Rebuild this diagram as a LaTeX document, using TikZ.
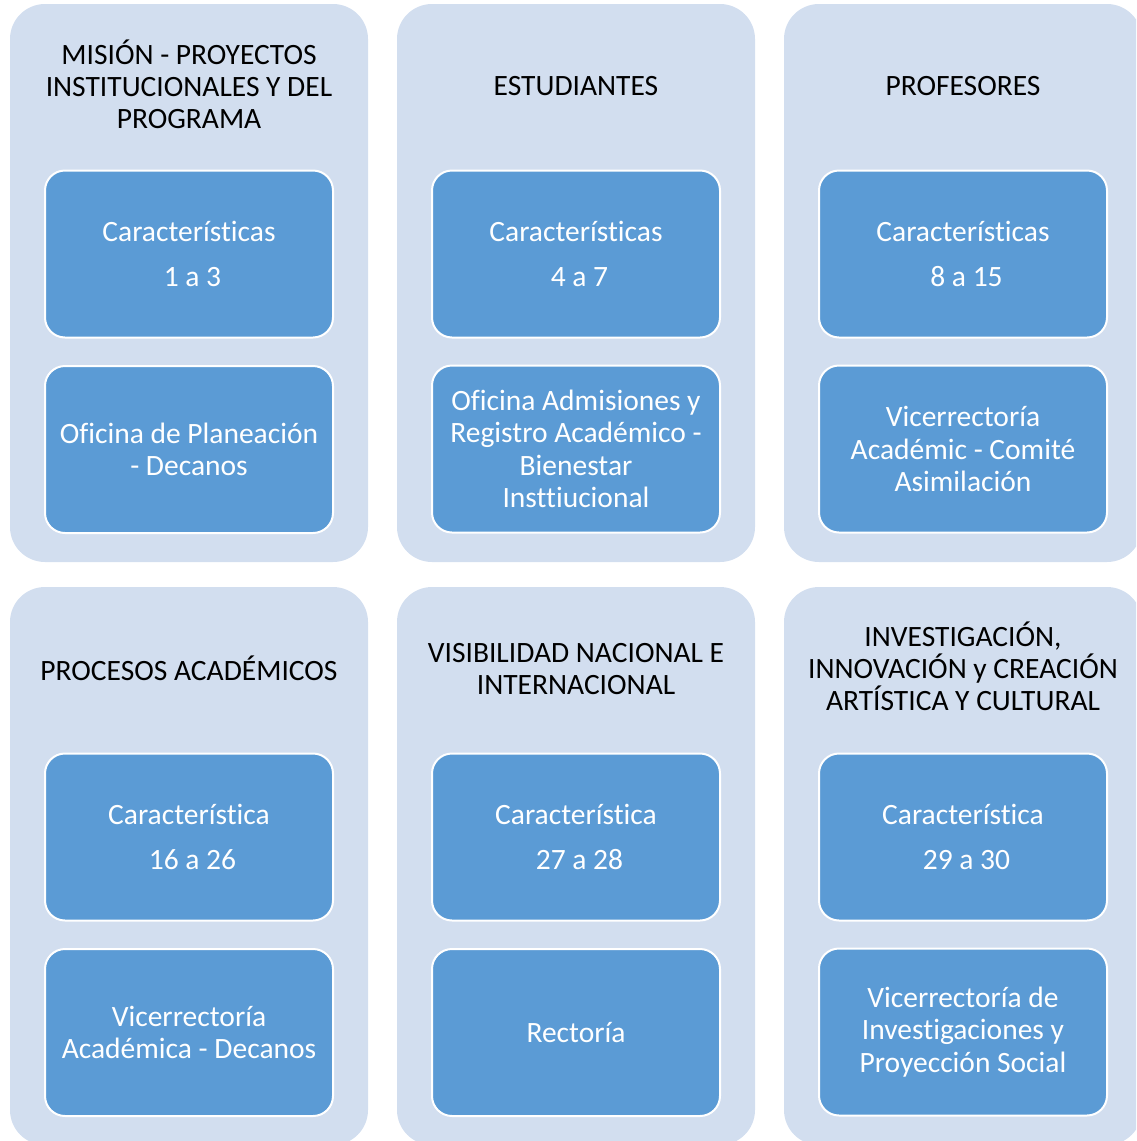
\documentclass[tikz,border=0pt]{standalone}
\usepackage{fontspec}
\setmainfont{Carlito}[Ligatures=NoCommon]
\definecolor{panelc}{HTML}{D2DEEF}
\definecolor{boxc}{HTML}{5B9BD5}
\newcommand{\lsp}{\hspace*{7pt}}
\begin{document}
\begin{tikzpicture}[x=1pt,y=-1pt,
  panel/.style={fill=panelc, rounded corners=35pt, minimum width=358pt, minimum height=558pt, inner sep=0pt},
  box/.style={fill=boxc, draw=white, line width=2pt, rounded corners=20pt, minimum width=288pt, minimum height=167pt, inner sep=0pt, text=white, align=center, font=\fontsize{29.5}{32.5}\selectfont},
  head/.style={align=center, text=black, font=\fontsize{29.5}{32}\selectfont}]
\useasboundingbox (0,0) rectangle (1136,1141);
\clip (0,0) rectangle (1136,1141);
% panels
\node[panel] (p11) at (189,283) {};
\node[panel] (p12) at (576,283) {};
\node[panel] (p13) at (963,283) {};
\node[panel] (p21) at (189,866) {};
\node[panel] (p22) at (576,866) {};
\node[panel] (p23) at (963,866) {};
% headers
\node[head] (h11) at (189,84) {MISIÓN - PROYECTOS\\INSTITUCIONALES Y DEL\\PROGRAMA};
\node[head] (h12) at (576,86) {ESTUDIANTES};
\node[head] (h13) at (963,86) {PROFESORES};
\node[head] (h21) at (189,668) {PROCESOS ACADÉMICOS};
\node[head] (h22) at (576,669) {VISIBILIDAD NACIONAL E\\INTERNACIONAL};
\node[head] (h23) at (963,666.5) {INVESTIGACIÓN,\\INNOVACIÓN y CREACIÓN\\ARTÍSTICA Y CULTURAL};
% row 1 boxes
\node[box] (a11) at (189,254) {Características\\[12.5pt] \lsp 1 a 3};
\node[box] (b11) at (189,449.5) {Oficina de Planeación\\- Decanos};
\node[box] (a12) at (576,254) {Características\\[12.5pt] \lsp 4 a 7};
\node[box] (b12) at (576,449) {Oficina Admisiones y\\Registro Académico -\\Bienestar\\Insttiucional};
\node[box] (a13) at (963,254) {Características\\[12.5pt] \lsp 8 a 15};
\node[box] (b13) at (963,449) {Vicerrectoría\\Académic - Comité\\Asimilación};
% row 2 boxes
\node[box] (a21) at (189,837) {Característica\\[12.5pt] \lsp 16 a 26};
\node[box] (b21) at (189,1032.5) {Vicerrectoría\\Académica - Decanos};
\node[box] (a22) at (576,837) {Característica\\[12.5pt] \lsp 27 a 28};
\node[box] (b22) at (576,1032.5) {Rectoría};
\node[box] (a23) at (963,837) {Característica\\[12.5pt] \lsp 29 a 30};
\node[box] (b23) at (963,1032) {Vicerrectoría de\\Investigaciones y\\Proyección Social};
\end{tikzpicture}
\end{document}
